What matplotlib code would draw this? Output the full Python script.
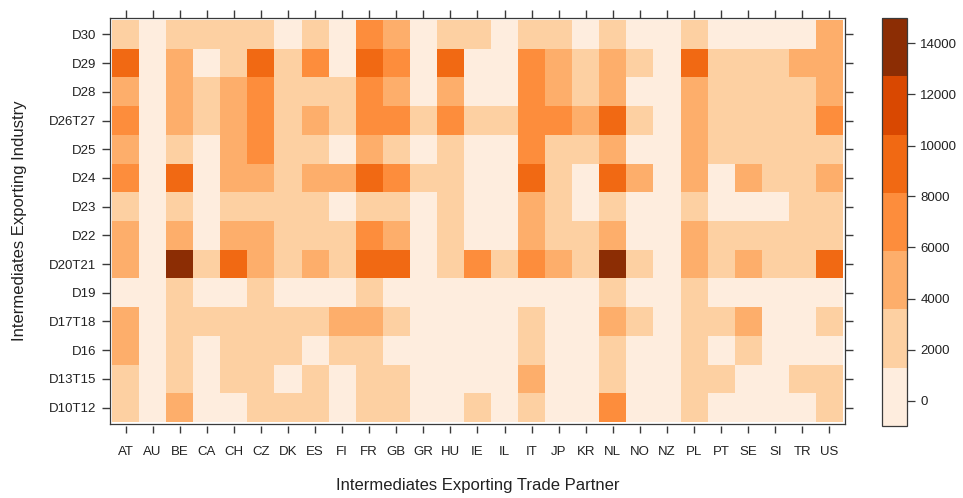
import matplotlib
matplotlib.use("Agg")
import matplotlib.pyplot as plt
from matplotlib.colors import ListedColormap, BoundaryNorm
import numpy as np

plt.rcParams['font.family'] = ['Liberation Sans', 'DejaVu Sans']

partners = ["AT", "AU", "BE", "CA", "CH", "CZ", "DK", "ES", "FI", "FR", "GB", "GR", "HU",
            "IE", "IL", "IT", "JP", "KR", "NL", "NO", "NZ", "PL", "PT", "SE", "SI", "TR", "US"]

# industries listed bottom to top
industries = ["D10T12", "D13T15", "D16", "D17T18", "D19", "D20T21", "D22",
              "D23", "D24", "D25", "D26T27", "D28", "D29", "D30"]

# exports by industry (rows, top to bottom) and partner (columns)
D30    = [2300, 200, 2300, 2300, 2300, 2300, 200, 2300, 200, 7000, 4600, 200, 2300, 2300, 200, 2300, 2300, 200, 2300, 200, 200, 2300, 200, 200, 200, 200, 4600]
D29    = [9300, 200, 4600, 200, 2300, 9300, 2300, 7000, 200, 9300, 7000, 200, 9300, 200, 200, 7000, 4600, 2300, 4600, 2300, 200, 9300, 2300, 2300, 2300, 4600, 4600]
D28    = [4600, 200, 4600, 2300, 4600, 7000, 2300, 2300, 2300, 7000, 4600, 200, 4600, 200, 200, 7000, 4600, 2300, 4600, 200, 200, 4600, 2300, 2300, 2300, 2300, 4600]
D26T27 = [7000, 200, 4600, 2300, 4600, 7000, 2300, 4600, 2300, 7000, 7000, 2300, 7000, 2300, 2300, 7000, 7000, 4600, 9300, 2300, 200, 4600, 2300, 2300, 2300, 2300, 7000]
D25    = [4600, 200, 2300, 200, 4600, 7000, 2300, 2300, 200, 4600, 2300, 200, 2300, 200, 200, 7000, 2300, 2300, 4600, 200, 200, 4600, 2300, 2300, 2300, 2300, 2300]
D24    = [7000, 200, 9300, 200, 4600, 4600, 2300, 4600, 4600, 9300, 7000, 2300, 2300, 200, 200, 9300, 2300, 200, 9300, 4600, 200, 4600, 200, 4600, 2300, 2300, 4600]
D23    = [2300, 200, 2300, 200, 2300, 2300, 2300, 2300, 200, 2300, 2300, 200, 2300, 200, 200, 4600, 2300, 200, 2300, 200, 200, 2300, 200, 200, 200, 2300, 2300]
D22    = [4600, 200, 4600, 200, 4600, 4600, 2300, 2300, 2300, 7000, 4600, 200, 2300, 200, 200, 4600, 2300, 2300, 4600, 200, 200, 4600, 2300, 2300, 2300, 2300, 2300]
D20T21 = [4600, 200, 14000, 2300, 9300, 4600, 2300, 4600, 2300, 9300, 9300, 200, 2300, 7000, 2300, 7000, 4600, 2300, 14000, 2300, 200, 4600, 2300, 4600, 2300, 2300, 9300]
D19    = [200, 200, 2300, 200, 200, 2300, 200, 200, 200, 2300, 200, 200, 200, 200, 200, 200, 200, 200, 2300, 200, 200, 2300, 200, 200, 200, 200, 200]
D17T18 = [4600, 200, 2300, 2300, 2300, 2300, 2300, 2300, 4600, 4600, 2300, 200, 200, 200, 200, 2300, 200, 200, 4600, 2300, 200, 2300, 2300, 4600, 200, 200, 2300]
D16    = [4600, 200, 2300, 200, 2300, 2300, 2300, 200, 2300, 2300, 200, 200, 200, 200, 200, 2300, 200, 200, 2300, 200, 200, 2300, 200, 2300, 200, 200, 200]
D13T15 = [2300, 200, 2300, 200, 2300, 2300, 200, 2300, 200, 2300, 2300, 200, 200, 200, 200, 4600, 200, 200, 2300, 200, 200, 2300, 2300, 200, 200, 2300, 2300]
D10T12 = [2300, 200, 4600, 200, 200, 2300, 2300, 2300, 200, 2300, 2300, 200, 200, 2300, 200, 2300, 200, 200, 7000, 200, 200, 2300, 200, 200, 200, 200, 2300]

values = np.array([D10T12, D13T15, D16, D17T18, D19, D20T21, D22,
                   D23, D24, D25, D26T27, D28, D29, D30])

levels = np.linspace(-1000, 15000, 8)
colours = ["#FEEDDE", "#FDD0A2", "#FDAE6B", "#FD8D3C", "#F16913", "#D94801", "#8C2D04"]
cmap = ListedColormap(colours)
norm = BoundaryNorm(levels, cmap.N)

frame_col = "#3a3a3a"

fig = plt.figure(figsize=(9.63, 4.98), dpi=100)
ax = fig.add_axes([110 / 963, 1 - 424 / 498, 735 / 963, 406 / 498])

mesh = ax.pcolormesh(np.arange(len(partners) + 1) - 0.5,
                     np.arange(len(industries) + 1) - 0.5,
                     values, cmap=cmap, norm=norm)

ax.set_xlim(-0.574, len(partners) - 0.426)
ax.set_ylim(-0.57, len(industries) - 0.43)

ax.set_xticks(np.arange(len(partners)))
ax.set_xticklabels(partners)
ax.set_yticks(np.arange(len(industries)))
ax.set_yticklabels(industries)
ax.tick_params(axis="both", direction="out", length=6, width=1.0, color=frame_col,
               labelsize=9.5, labelcolor="#222222", top=True, right=True, pad=4)
# bottom tick marks drawn as short segments just under the frame
ax.tick_params(axis="x", bottom=False, pad=10)
ax.vlines(np.arange(len(partners)), -0.022, -0.006, transform=ax.get_xaxis_transform(),
          colors=frame_col, linewidth=1.0, clip_on=False)
for s in ax.spines.values():
    s.set_color(frame_col)
    s.set_linewidth(0.9)

ax.set_xlabel("Intermediates Exporting Trade Partner", fontsize=12, color="#222222", labelpad=14)
ax.set_ylabel("Intermediates Exporting Industry", fontsize=12, color="#222222", labelpad=16)

# colour key on the right
cax = fig.add_axes([882 / 963, 1 - 426 / 498, 25 / 963, 408 / 498])
cb = fig.colorbar(mesh, cax=cax, boundaries=levels, ticks=np.arange(0, 14001, 2000))
cb.outline.set_edgecolor(frame_col)
cb.outline.set_linewidth(0.9)
cax.minorticks_off()
cax.tick_params(direction="out", length=5.5, width=0.9, color=frame_col,
                labelsize=9.5, labelcolor="#222222", pad=4)

fig.savefig("out.png", dpi=100)
